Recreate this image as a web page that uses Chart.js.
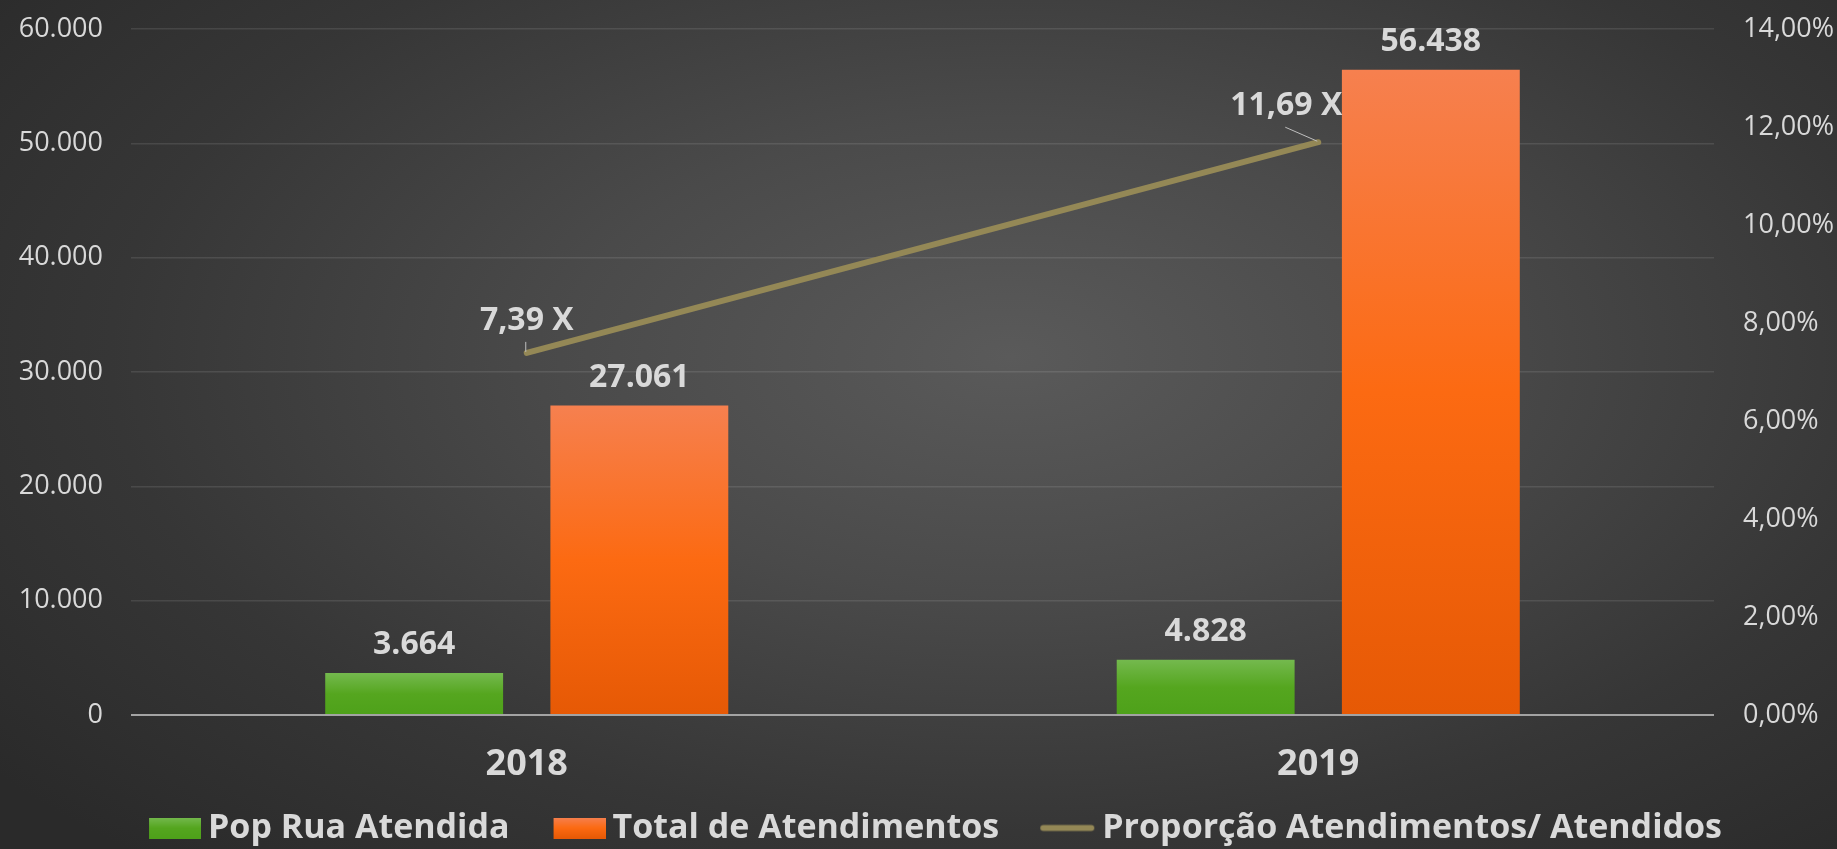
<!DOCTYPE html>
<html>
<head>
<meta charset="utf-8">
<script src="https://cdn.jsdelivr.net/npm/chart.js@4.4.1/dist/chart.umd.min.js"></script>
<style>
  html, body { margin: 0; padding: 0; }
  body {
    width: 1837px; height: 849px; overflow: hidden;
    background: radial-gradient(ellipse 70% 80% at 55% 42%, #5a5a5a 0%, #4a4a4a 35%, #363636 70%, #2a2a2a 100%);
  }
  #wrap { position: relative; width: 1837px; height: 849px; }
</style>
</head>
<body>
<div id="wrap"><canvas id="chart"></canvas></div>
<script>
// data
const years = ["2018", "2019"];
const popRua = [3664, 4828];
const totalAtend = [27061, 56438];
const proporcao = [7.39, 11.69];
const seriesNames = ["Pop Rua Atendida", "Total de Atendimentos", "Proporção Atendimentos/ Atendidos"];

const FONT = "'Open Sans', 'Liberation Sans', sans-serif";
const textColor = "#d9d9d9";
const lineColor = "#948856";

function thousands(v) {
    return String(v).replace(/\B(?=(\d{3})+(?!\d))/g, ".");
}

// vertical gradient for each bar, from its top to the zero line
function barFill(stops) {
    return function (ctx) {
        const chart = ctx.chart;
        const y = chart.scales.y;
        if (ctx.type !== "data" || !y) return stops[stops.length - 1][1];
        const top = y.getPixelForValue(ctx.raw);
        const base = y.getPixelForValue(0);
        if (!isFinite(top) || !isFinite(base) || top === base) return stops[stops.length - 1][1];
        const g = chart.ctx.createLinearGradient(0, top, 0, base);
        stops.forEach(s => g.addColorStop(s[0], s[1]));
        return g;
    };
}
const greenStops = [[0, "#74b94e"], [0.5, "#55a61f"], [1, "#4ea11a"]];
const orangeStops = [[0, "#f6804f"], [0.5, "#fc6a12"], [1, "#e65905"]];

// legend swatches: a transparent strip on the left keeps the items apart
const ICON_W = 96;
function swatch(draw) {
    const c = document.createElement("canvas");
    c.width = ICON_W; c.height = 21;
    draw(c.getContext("2d"), ICON_W, 21);
    return c;
}
function boxSwatch(stops) {
    return swatch((c, w, h) => {
        const g = c.createLinearGradient(0, 0, 0, h);
        stops.forEach(s => g.addColorStop(s[0], s[1]));
        c.fillStyle = g;
        c.fillRect(w - 52, 0, 52, h);
    });
}
const legendIcons = [
    boxSwatch(greenStops),
    boxSwatch(orangeStops),
    swatch((c, w, h) => {
        c.strokeStyle = lineColor;
        c.lineWidth = 6;
        c.lineCap = "round";
        c.beginPath();
        c.moveTo(w - 52, h / 2);
        c.lineTo(w - 4, h / 2);
        c.stroke();
    })
];

// value labels above bars and beside the line points
const lineLabelOffsets = [[0, -23], [-32, -27]];
const valueLabels = {
    id: "valueLabels",
    afterDatasetsDraw(chart) {
        const c = chart.ctx;
        c.save();
        c.fillStyle = textColor;
        c.font = "bold 32px " + FONT;
        c.textAlign = "center";
        c.textBaseline = "alphabetic";
        chart.data.datasets.forEach((ds, i) => {
            const meta = chart.getDatasetMeta(i);
            meta.data.forEach((el, j) => {
                if (ds.type === "line") {
                    const off = lineLabelOffsets[j];
                    c.fillText(ds.data[j].toFixed(2).replace(".", ",") + " X", el.x + off[0], el.y + off[1]);
                    c.strokeStyle = "#bfbfbf";
                    c.lineWidth = 1;
                    c.beginPath();
                    c.moveTo(el.x + off[0] - 1, el.y + off[1] + 12);
                    c.lineTo(el.x - 1, el.y - 1);
                    c.stroke();
                } else {
                    c.fillText(thousands(ds.data[j]), el.x, el.y - 19);
                }
            });
        });
        c.restore();
    }
};

// fixed axis widths, no extra label padding above/below the plot
function fixAxis(width) {
    return function (s) {
        s.width = width;
        s.paddingTop = 0;
        s.paddingBottom = 0;
    };
}

const ctx = document.getElementById("chart").getContext("2d");
new Chart(ctx, {
    type: "bar",
    data: {
        labels: years,
        datasets: [
            {
                label: seriesNames[0],
                data: popRua,
                backgroundColor: barFill(greenStops),
                categoryPercentage: 0.569,
                barPercentage: 0.79,
                order: 1
            },
            {
                label: seriesNames[1],
                data: totalAtend,
                backgroundColor: barFill(orangeStops),
                categoryPercentage: 0.569,
                barPercentage: 0.79,
                order: 1
            },
            {
                type: "line",
                label: seriesNames[2],
                data: proporcao,
                yAxisID: "y1",
                borderColor: lineColor,
                borderWidth: 6,
                borderCapStyle: "round",
                pointRadius: 0,
                order: 0
            }
        ]
    },
    options: {
        responsive: true,
        maintainAspectRatio: false,
        animation: false,
        layout: { padding: { top: 29, bottom: -6, left: 0, right: 0 } },
        plugins: {
            tooltip: { enabled: false },
            legend: {
                position: "bottom",
                labels: {
                    usePointStyle: true,
                    pointStyleWidth: ICON_W - 20,
                    padding: 10,
                    color: textColor,
                    font: { family: FONT, size: 34, weight: "bold" },
                    generateLabels(chart) {
                        return chart.data.datasets.map((ds, i) => ({
                            text: ds.label,
                            pointStyle: legendIcons[i],
                            fontColor: textColor,
                            lineWidth: 0,
                            hidden: false,
                            datasetIndex: i
                        }));
                    }
                }
            }
        },
        scales: {
            x: {
                grid: { display: false },
                border: { display: false },
                ticks: { color: textColor, padding: 20, font: { family: FONT, size: 36, weight: "bold" } },
                afterFit(s) { s.height = 86; }
            },
            y: {
                position: "left",
                min: 0,
                max: 60000,
                border: { display: false },
                grid: {
                    drawTicks: false,
                    color: c => c.tick && c.tick.value === 0 ? "#a3a3a3" : "rgba(255,255,255,0.10)",
                    lineWidth: c => c.tick && c.tick.value === 0 ? 2 : 1.5
                },
                ticks: {
                    stepSize: 10000,
                    padding: 28,
                    color: textColor,
                    font: { family: FONT, size: 27 },
                    callback: v => thousands(v)
                },
                afterFit: fixAxis(131)
            },
            y1: {
                position: "right",
                min: 0,
                max: 14,
                border: { display: false },
                grid: { display: false, drawTicks: false },
                ticks: {
                    stepSize: 2,
                    padding: 29,
                    color: textColor,
                    font: { family: FONT, size: 27 },
                    callback: v => v.toFixed(2).replace(".", ",") + "%"
                },
                afterFit: fixAxis(123)
            }
        }
    },
    plugins: [valueLabels]
});
</script>
</body>
</html>
